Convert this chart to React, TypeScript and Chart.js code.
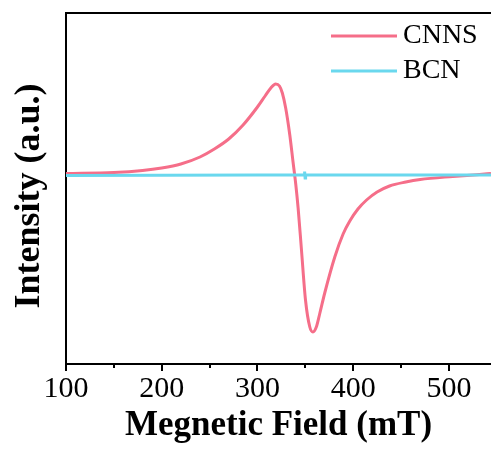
import React, { useEffect, useRef } from "react";
import { Chart, registerables } from "chart.js";

Chart.register(...registerables);

const cnnsField = [100, 150, 180, 200, 220, 240, 255, 270, 285, 300, 308, 314, 319, 323, 326, 329.5, 333.8, 337.2, 340, 342.5, 346, 350.2, 354.7, 358, 361.5, 365, 370.3, 380.8, 389.5, 396.5, 405, 414, 425, 438, 455, 470, 504, 532, 544];
const cnnsValue = [0.5, 1.5, 3.5, 6, 10, 17, 25, 35, 49, 67, 78, 86, 90, 88, 81, 66, 39, 12, -10, -34, -76, -126, -153, -158, -153, -140, -119, -83, -60, -47, -35, -26, -18, -12, -8, -5.5, -2.5, -0.5, 0.5];

const bcnField = [100, 200, 300, 348.8, 349.3, 349.8, 350.3, 400, 500, 544];
const bcnValue = [-1.5, -1.3, -1.1, -1, 2.5, -4, -1, -1, -1, -1];

const seriesNames = ["CNNS", "BCN"];
const seriesColors = ["#F56E89", "#6AD8EE"];
const xTicks = [100, 150, 200, 250, 300, 350, 400, 450, 500];
const xTitle = "Megnetic Field (mT)";
const yTitle = "Intensity (a.u.)";

const SERIF = '"Liberation Serif", "Times New Roman", serif';

const decorPlugin = {
  id: "decor",
  afterDraw(chart: any) {
    const { ctx, chartArea, scales } = chart;
    const xs = scales.x;
    ctx.save();
    ctx.strokeStyle = "#000";
    ctx.lineWidth = 2;
    ctx.beginPath();
    ctx.moveTo(chartArea.left - 1, chartArea.top);
    ctx.lineTo(chartArea.right, chartArea.top);
    ctx.stroke();
    xTicks.forEach((v) => {
      const px = Math.round(xs.getPixelForValue(v));
      const len = v % 100 === 0 ? 7 : 4;
      ctx.beginPath();
      ctx.moveTo(px, chartArea.bottom);
      ctx.lineTo(px, chartArea.bottom + len);
      ctx.stroke();
    });
    ctx.fillStyle = "#000";
    ctx.font = `bold 36px ${SERIF}`;
    ctx.textAlign = "center";
    ctx.textBaseline = "middle";
    ctx.translate(30, 196);
    ctx.rotate(-Math.PI / 2);
    ctx.fillText(yTitle, 0, 0);
    ctx.restore();

    ctx.save();
    ctx.font = `28px ${SERIF}`;
    ctx.textAlign = "left";
    ctx.textBaseline = "middle";
    chart.data.datasets.forEach((ds: any, i: number) => {
      const y = 36 + i * 35;
      ctx.strokeStyle = ds.borderColor;
      ctx.lineWidth = 3;
      ctx.beginPath();
      ctx.moveTo(331, y);
      ctx.lineTo(397, y);
      ctx.stroke();
      ctx.fillStyle = "#000";
      ctx.fillText(ds.label, 403, y);
    });
    ctx.restore();
  },
};

export default function App() {
  const ref = useRef<HTMLCanvasElement | null>(null);
  useEffect(() => {
    if (!ref.current) return;
    const chart = new Chart(ref.current, {
      type: "line",
      data: {
        datasets: [
          {
            label: seriesNames[0],
            data: cnnsField.map((x, i) => ({ x, y: cnnsValue[i] })),
            borderColor: seriesColors[0],
            borderWidth: 3,
            pointRadius: 0,
            cubicInterpolationMode: "monotone",
            order: 1,
          },
          {
            label: seriesNames[1],
            data: bcnField.map((x, i) => ({ x, y: bcnValue[i] })),
            borderColor: seriesColors[1],
            borderWidth: 3,
            pointRadius: 0,
            tension: 0,
            order: 0,
          },
        ],
      },
      options: {
        animation: false,
        responsive: true,
        maintainAspectRatio: false,
        layout: { padding: { top: 13, left: 0, right: 0, bottom: 0 } },
        plugins: { legend: { display: false }, tooltip: { enabled: false } },
        scales: {
          x: {
            type: "linear",
            min: 100,
            max: 544,
            afterBuildTicks: (scale: any) => {
              scale.ticks = xTicks.map((v) => ({ value: v }));
            },
            afterFit: (scale: any) => {
              scale.height = 87;
            },
            grid: { display: false, drawTicks: true, tickLength: 6 },
            border: { display: true, color: "#000", width: 2 },
            ticks: {
              autoSkip: false,
              maxRotation: 0,
              padding: 1,
              color: "#000",
              font: { family: SERIF, size: 30 },
              callback: (v: any) => (Number(v) % 100 === 0 ? String(v) : ""),
            },
            title: {
              display: true,
              text: xTitle,
              color: "#000",
              font: { family: SERIF, size: 35, weight: "bold" },
              padding: { top: 0, bottom: 4 },
            },
          },
          y: {
            type: "linear",
            min: -190,
            max: 161,
            afterFit: (scale: any) => {
              scale.width = 66;
            },
            grid: { display: false, drawTicks: false },
            border: { display: true, color: "#000", width: 2 },
            ticks: { display: false },
          },
        },
      },
      plugins: [decorPlugin],
    });
    return () => chart.destroy();
  }, []);
  return (
    <div style={{ position: "absolute", left: 0, top: 0, width: 491, height: 451, background: "#fff" }}>
      <canvas ref={ref} />
    </div>
  );
}
